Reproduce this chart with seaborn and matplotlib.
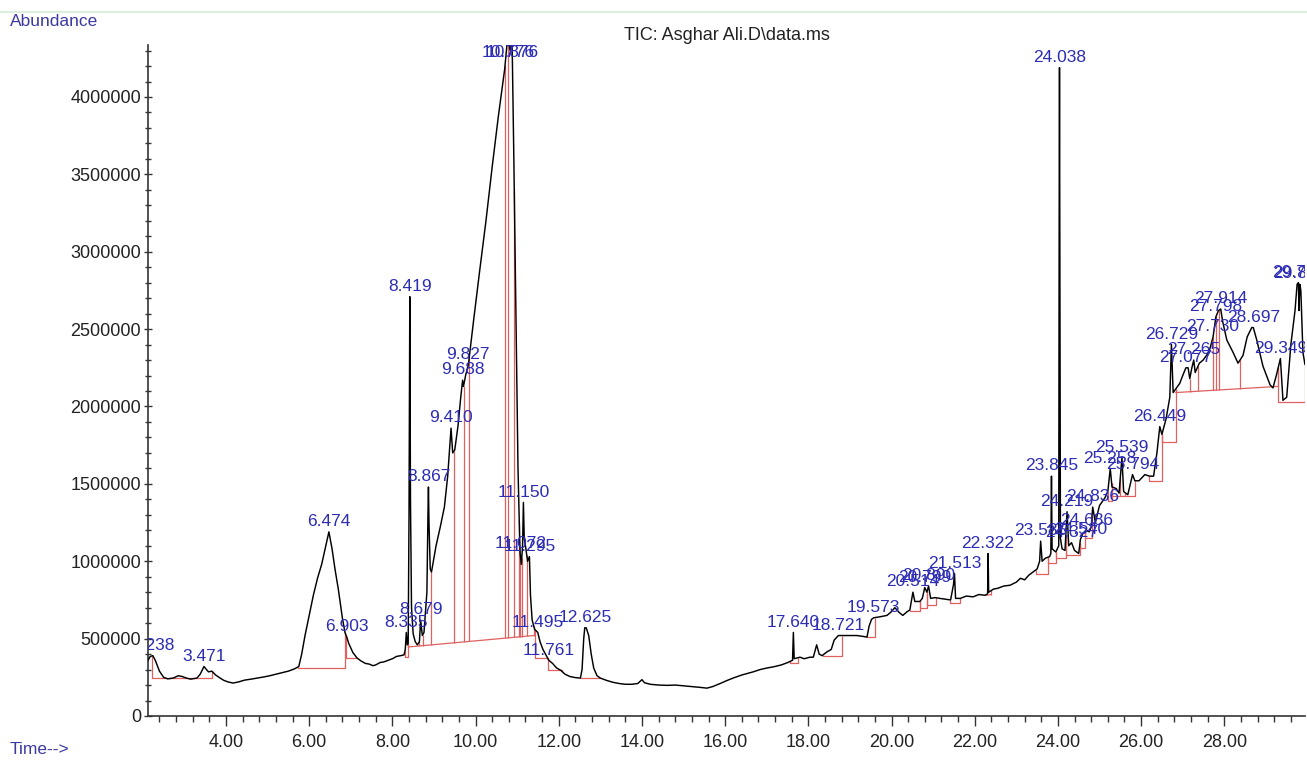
import numpy as np
import matplotlib
matplotlib.use("Agg")
import matplotlib.pyplot as plt
from matplotlib.ticker import MultipleLocator, FuncFormatter
from matplotlib.lines import Line2D
import seaborn as sns

# ---------------- data ----------------
# retention time (min)
time_min = [
    2.125, 2.18, 2.24, 2.30, 2.40, 2.50, 2.60, 2.73, 2.85, 2.95, 3.05, 3.15, 3.30, 3.38, 3.471,
    3.53, 3.58, 3.66, 3.75, 3.86, 3.95, 4.05, 4.17, 4.30, 4.45, 4.60, 4.75, 4.90, 5.05, 5.20,
    5.35, 5.50, 5.65, 5.75, 5.82, 5.90, 6.00, 6.10, 6.20, 6.30, 6.40, 6.474, 6.55, 6.62, 6.70,
    6.80, 6.86, 6.903, 6.95, 7.05, 7.15, 7.25, 7.35, 7.45, 7.53, 7.60, 7.70, 7.80, 7.90, 8.00,
    8.10, 8.20, 8.28, 8.31, 8.335, 8.36, 8.38, 8.40, 8.419, 8.435, 8.46, 8.50, 8.55, 8.60, 8.65,
    8.679, 8.72, 8.76, 8.83, 8.855, 8.867, 8.88, 8.91, 8.94, 9.05, 9.15, 9.25, 9.33, 9.38, 9.410,
    9.45, 9.50, 9.58, 9.64, 9.688, 9.71, 9.76, 9.827, 9.95, 10.10, 10.25, 10.40, 10.55, 10.70, 10.776,
    10.83, 10.876, 10.92, 10.97, 11.02, 11.06, 11.072, 11.10, 11.13, 11.150, 11.17, 11.21, 11.25, 11.295, 11.32,
    11.36, 11.42, 11.495, 11.55, 11.62, 11.70, 11.761, 11.85, 11.95, 12.05, 12.15, 12.27, 12.40, 12.52, 12.56,
    12.60, 12.625, 12.66, 12.72, 12.78, 12.84, 12.92, 13.00, 13.15, 13.30, 13.45, 13.60, 13.75, 13.90, 14.00,
    14.06, 14.20, 14.40, 14.60, 14.80, 15.00, 15.20, 15.40, 15.56, 15.70, 15.88, 16.05, 16.19, 16.40, 16.67,
    16.84, 17.00, 17.15, 17.35, 17.50, 17.62, 17.640, 17.66, 17.80, 17.90, 18.04, 18.12, 18.20, 18.26, 18.33,
    18.45, 18.55, 18.62, 18.721, 18.85, 19.00, 19.17, 19.30, 19.41, 19.46, 19.52, 19.573, 19.70, 19.89, 19.98,
    20.08, 20.18, 20.27, 20.38, 20.44, 20.514, 20.56, 20.68, 20.74, 20.799, 20.85, 20.890, 20.94, 21.05, 21.16,
    21.30, 21.42, 21.49, 21.513, 21.54, 21.65, 21.80, 21.96, 22.10, 22.25, 22.31, 22.322, 22.335, 22.45, 22.55,
    22.70, 22.85, 23.00, 23.10, 23.20, 23.30, 23.40, 23.50, 23.56, 23.585, 23.62, 23.70, 23.80, 23.83, 23.845,
    23.86, 23.95, 24.02, 24.030, 24.038, 24.046, 24.06, 24.10, 24.17, 24.219, 24.26, 24.327, 24.40, 24.50, 24.540,
    24.60, 24.686, 24.75, 24.80, 24.836, 24.90, 25.00, 25.13, 25.20, 25.258, 25.30, 25.40, 25.47, 25.539, 25.58,
    25.68, 25.794, 25.85, 25.95, 26.09, 26.20, 26.30, 26.38, 26.449, 26.50, 26.60, 26.69, 26.729, 26.77, 26.85,
    26.93, 27.00, 27.077, 27.13, 27.17, 27.22, 27.265, 27.30, 27.40, 27.49, 27.60, 27.65, 27.730, 27.798, 27.86,
    27.914, 27.96, 28.06, 28.21, 28.33, 28.45, 28.55, 28.66, 28.697, 28.78, 28.93, 29.10, 29.17, 29.25, 29.349,
    29.41, 29.50, 29.60, 29.70, 29.75, 29.782, 29.795, 29.815, 29.84, 29.89, 29.94,
]
# abundance (millions of counts)
abundance_m = [
    0.36, 0.385, 0.39, 0.36, 0.29, 0.25, 0.24, 0.245, 0.26, 0.255, 0.245, 0.238, 0.245, 0.27, 0.32,
    0.30, 0.285, 0.29, 0.265, 0.245, 0.23, 0.22, 0.213, 0.22, 0.232, 0.238, 0.245, 0.252, 0.26, 0.27,
    0.28, 0.29, 0.305, 0.32, 0.40, 0.52, 0.65, 0.78, 0.89, 0.98, 1.10, 1.19, 1.08, 0.95, 0.82,
    0.63, 0.54, 0.51, 0.47, 0.41, 0.375, 0.355, 0.34, 0.335, 0.325, 0.33, 0.345, 0.35, 0.36, 0.37,
    0.385, 0.39, 0.395, 0.43, 0.54, 0.46, 0.47, 1.30, 2.71, 1.40, 0.70, 0.53, 0.48, 0.46, 0.48,
    0.62, 0.52, 0.54, 0.80, 1.30, 1.48, 1.25, 0.95, 0.93, 1.10, 1.22, 1.35, 1.55, 1.75, 1.86,
    1.70, 1.72, 1.88, 2.05, 2.17, 2.13, 2.20, 2.27, 2.55, 2.88, 3.20, 3.55, 3.88, 4.18, 4.40,
    4.30, 4.40, 3.60, 2.60, 1.60, 1.15, 1.05, 0.98, 1.10, 1.38, 1.15, 1.08, 1.00, 1.03, 0.78,
    0.62, 0.56, 0.54, 0.48, 0.43, 0.39, 0.36, 0.34, 0.31, 0.295, 0.27, 0.255, 0.248, 0.245, 0.30,
    0.50, 0.57, 0.57, 0.52, 0.40, 0.31, 0.26, 0.245, 0.23, 0.218, 0.21, 0.205, 0.205, 0.21, 0.235,
    0.215, 0.205, 0.20, 0.198, 0.20, 0.195, 0.19, 0.185, 0.18, 0.19, 0.21, 0.23, 0.245, 0.265, 0.285,
    0.30, 0.31, 0.317, 0.33, 0.345, 0.36, 0.54, 0.37, 0.38, 0.37, 0.38, 0.38, 0.46, 0.40, 0.39,
    0.415, 0.43, 0.49, 0.52, 0.52, 0.52, 0.52, 0.515, 0.51, 0.58, 0.625, 0.635, 0.64, 0.65, 0.67,
    0.70, 0.67, 0.65, 0.675, 0.685, 0.80, 0.74, 0.74, 0.76, 0.83, 0.80, 0.84, 0.76, 0.765, 0.76,
    0.755, 0.75, 0.85, 0.92, 0.76, 0.76, 0.775, 0.77, 0.785, 0.78, 0.79, 1.05, 0.80, 0.82, 0.825,
    0.84, 0.845, 0.865, 0.89, 0.88, 0.91, 0.93, 0.95, 1.00, 1.13, 1.00, 1.02, 1.03, 1.05, 1.55,
    1.08, 1.06, 1.10, 3.20, 4.19, 3.00, 1.15, 1.08, 1.07, 1.32, 1.10, 1.12, 1.07, 1.05, 1.14,
    1.18, 1.20, 1.19, 1.22, 1.35, 1.25, 1.36, 1.41, 1.45, 1.60, 1.48, 1.47, 1.44, 1.67, 1.45,
    1.43, 1.56, 1.52, 1.52, 1.56, 1.55, 1.55, 1.70, 1.87, 1.82, 1.92, 2.06, 2.40, 2.09, 2.12,
    2.15, 2.20, 2.25, 2.25, 2.18, 2.25, 2.30, 2.22, 2.28, 2.30, 2.34, 2.37, 2.45, 2.58, 2.62,
    2.63, 2.55, 2.43, 2.35, 2.28, 2.33, 2.45, 2.51, 2.51, 2.43, 2.26, 2.14, 2.12, 2.20, 2.31,
    2.04, 2.06, 2.40, 2.62, 2.79, 2.80, 2.62, 2.79, 2.75, 2.35, 2.27,
]

# labelled peaks (retention times printed by the integrator)
peak_rt = [
    2.238, 3.471, 6.474, 6.903, 8.335, 8.419, 8.679, 8.867, 9.410, 9.688, 9.827, 10.776, 10.876,
    11.072, 11.150, 11.295, 11.495, 11.761, 12.625, 17.640, 18.721, 19.573, 20.514, 20.799, 20.890,
    21.513, 22.322, 23.585, 23.845, 24.038, 24.219, 24.327, 24.540, 24.686, 24.836, 25.258, 25.539,
    25.794, 26.449, 26.729, 27.077, 27.265, 27.730, 27.798, 27.914, 28.697, 29.349, 29.782, 29.815,
]

# integration baselines: start time, start level, end time, end level (millions)
base_t0 = [2.22, 5.73, 6.88, 8.30, 8.38, 11.42, 11.74, 12.51, 17.56, 18.35, 19.41, 20.44, 20.68, 20.85,
           21.40, 22.28, 23.47, 23.76, 23.95, 24.19, 24.53, 24.65, 25.20, 25.29, 26.19, 26.50, 26.83, 29.30]
base_a0 = [0.245, 0.31, 0.375, 0.38, 0.446, 0.375, 0.30, 0.245, 0.342, 0.39, 0.51, 0.68, 0.70, 0.715,
           0.73, 0.78, 0.918, 0.99, 1.02, 1.04, 1.085, 1.15, 1.39, 1.42, 1.52, 1.77, 2.09, 2.03]
base_t1 = [3.66, 6.86, 7.15, 8.38, 11.40, 11.74, 12.08, 12.99, 17.75, 18.81, 19.60, 20.68, 20.85, 21.08,
           21.64, 22.40, 23.76, 23.95, 24.19, 24.53, 24.65, 24.82, 25.29, 25.85, 26.50, 26.83, 29.30, 29.94]
base_a1 = [0.245, 0.31, 0.375, 0.38, 0.52, 0.375, 0.30, 0.245, 0.342, 0.39, 0.51, 0.68, 0.70, 0.715,
           0.73, 0.785, 0.918, 0.99, 1.02, 1.04, 1.085, 1.15, 1.39, 1.42, 1.52, 1.77, 2.13, 2.03]
# drop lines between co-eluting peaks
drop_t = [8.65, 8.73, 8.94, 9.48, 9.71, 9.85, 10.71, 10.79, 10.93, 11.05, 11.08, 11.11, 11.23,
          25.50, 25.62, 27.17, 27.37, 27.73, 27.81, 27.88, 28.38]

x_ticks = [4, 6, 8, 10, 12, 14, 16, 18, 20, 22, 24, 26, 28]

# ---------------- figure ----------------
sns.set_theme(style="white")
plt.rcParams["font.family"] = ["Liberation Sans", "DejaVu Sans"]

W, H, DPI = 1307, 760, 100
fig = plt.figure(figsize=(W / DPI, H / DPI), dpi=DPI)
ax = fig.add_axes([148 / W, 1 - 716 / H, (1305 - 148) / W, (716 - 45) / H])

t = np.array(time_min)
a = np.array(abundance_m) * 1e6

RED = "#e06060"
BLUE = "#2c2cb4"

# integration baselines and drop lines
for t0, a0, t1, a1 in zip(base_t0, base_a0, base_t1, base_a1):
    a0v, a1v = a0 * 1e6, a1 * 1e6
    ax.plot([t0, t1], [a0v, a1v], color=RED, lw=0.9, zorder=2)
    ax.vlines([t0, t1], [a0v, a1v], [np.interp(t0, t, a), np.interp(t1, t, a)],
              color=RED, lw=0.9, zorder=2)
for td in drop_t:
    for t0, a0, t1, a1 in zip(base_t0, base_a0, base_t1, base_a1):
        if t0 <= td <= t1:
            b = (a0 + (a1 - a0) * (td - t0) / (t1 - t0)) * 1e6
            ax.vlines(td, b, np.interp(td, t, a), color=RED, lw=0.9, zorder=2)
            break

# chromatogram trace
sns.lineplot(x=t, y=a, ax=ax, color="black", linewidth=1.05, estimator=None, sort=False, zorder=3)

ax.set_xlim(2.125, 29.94)
ax.set_ylim(0, 4.336e6)

# peak labels
ytop = 4.22e6
for rt in peak_rt:
    yv = min(np.interp(rt, t, a), ytop)
    txt = ax.annotate(f"{rt:.3f}", (rt, yv), xytext=(0, 2), textcoords="offset points",
                      ha="center", va="bottom", fontsize=12.5, color=BLUE, zorder=4,
                      annotation_clip=False)
    txt.set_clip_on(True)
    txt.set_clip_path(ax.patch)

# axes styling
for s in ["top", "right"]:
    ax.spines[s].set_visible(False)
for s in ["left", "bottom"]:
    ax.spines[s].set_color("#333333")
    ax.spines[s].set_linewidth(1.2)

ax.set_xticks(x_ticks)
ax.xaxis.set_major_formatter(FuncFormatter(lambda v, p: f"{v:.2f}"))
ax.xaxis.set_minor_locator(MultipleLocator(0.4))
ax.yaxis.set_major_locator(MultipleLocator(500000))
ax.yaxis.set_minor_locator(MultipleLocator(100000))
ax.yaxis.set_major_formatter(FuncFormatter(lambda v, p: f"{int(round(v))}"))
ax.tick_params(axis="x", which="major", direction="out", length=7, width=1, colors="#333333",
               labelsize=13, labelcolor="#222222", pad=6, bottom=True)
ax.tick_params(axis="x", which="minor", direction="out", length=4, width=1, colors="#333333", bottom=True)
ax.tick_params(axis="y", which="major", direction="inout", length=6, width=1, colors="#333333",
               labelsize=13, labelcolor="#222222", pad=2, left=True)
ax.tick_params(axis="y", which="minor", direction="inout", length=4, width=1, colors="#333333", left=True)
ax.set_xlabel("")
ax.set_ylabel("")
ax.grid(False)

# header / footer texts
fig.add_artist(Line2D([0, 1], [1 - 12 / H, 1 - 12 / H], color="#d6ebd6", lw=1.2))
fig.text(10 / W, 1 - 22 / H, "Abundance", fontsize=12.5, color="#3a3aa0", ha="left", va="center")
fig.text(10 / W, 1 - 749 / H, "Time-->", fontsize=12.5, color="#3a3aa0", ha="left", va="center")
fig.text(727 / W, 1 - 35 / H, "TIC: Asghar Ali.D\\data.ms", fontsize=13, color="#222222",
         ha="center", va="center")

fig.savefig("out.png", dpi=DPI)
